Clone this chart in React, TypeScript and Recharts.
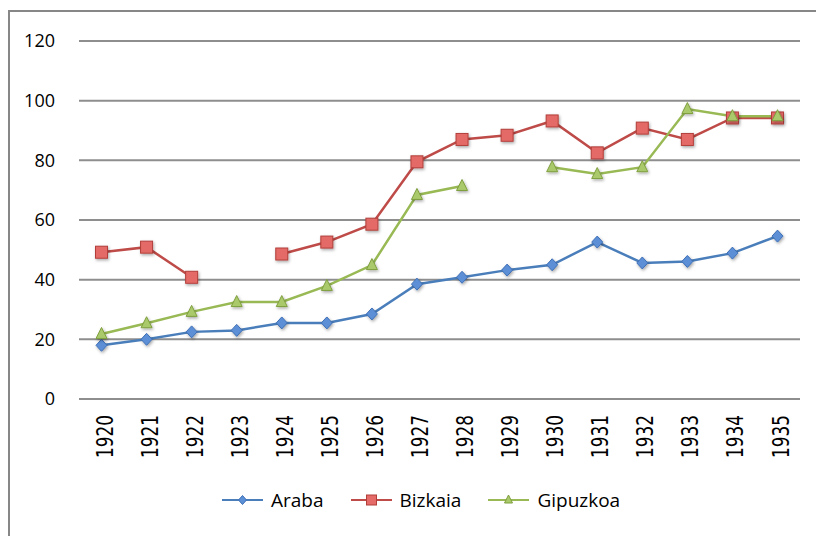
import React from 'react'
import { LineChart, Line, XAxis, YAxis, CartesianGrid, Legend } from 'recharts'

const years = ['1920', '1921', '1922', '1923', '1924', '1925', '1926', '1927', '1928', '1929', '1930', '1931', '1932', '1933', '1934', '1935']
const araba = [18, 20, 22.5, 23, 25.5, 25.5, 28.5, 38.5, 40.8, 43.2, 45, 52.6, 45.6, 46.1, 48.9, 54.6]
const bizkaia = [49.2, 50.9, 40.8, null, 48.6, 52.6, 58.6, 79.5, 87, 88.4, 93.2, 82.5, 90.8, 87, 94.2, 94.2]
const gipuzkoa = [21.8, 25.4, 29.2, 32.5, 32.5, 37.9, 44.9, 68.4, 71.4, null, 77.7, 75.4, 77.7, 97.2, 94.8, 94.8]
const yTicks = [0, 20, 40, 60, 80, 100, 120]

const data = years.map((year, i) => ({
  year,
  Araba: araba[i],
  Bizkaia: bizkaia[i],
  Gipuzkoa: gipuzkoa[i],
}))

const styles: Record<string, { line: string; fill: string; stroke: string; shape: string }> = {
  Araba: { line: '#4a7ebb', fill: '#5b8fd6', stroke: '#3f6fb5', shape: 'diamond' },
  Bizkaia: { line: '#be4b48', fill: '#e46b67', stroke: '#b23e3a', shape: 'square' },
  Gipuzkoa: { line: '#98b954', fill: '#a9c96a', stroke: '#7f9f3f', shape: 'triangle' },
}

function Marker({ shape, cx, cy, fill, stroke, size, shadow }: any) {
  const s = size / 2
  const filter = shadow ? 'url(#mshadow)' : undefined
  if (shape === 'diamond') {
    return <path d={`M${cx},${cy - s - 0.5}L${cx + s},${cy}L${cx},${cy + s + 0.5}L${cx - s},${cy}Z`} fill={fill} stroke={stroke} strokeWidth={1} filter={filter} />
  }
  if (shape === 'square') {
    return <rect x={cx - s} y={cy - s} width={size} height={size} fill={fill} stroke={stroke} strokeWidth={1} filter={filter} />
  }
  return <path d={`M${cx},${cy - s - 1}L${cx + s},${cy + s - 1}L${cx - s},${cy + s - 1}Z`} fill={fill} stroke={stroke} strokeWidth={1} filter={filter} />
}

const makeDot = (name: string, size: number) => (props: any) => {
  const { cx, cy, index, value } = props
  const st = styles[name]
  if (cx == null || cy == null || value == null) return <g key={`${name}-${index}`} />
  return (
    <g key={`${name}-${index}`}>
      <Marker shape={st.shape} cx={cx} cy={cy} fill={st.fill} stroke={st.stroke} size={size} shadow />
    </g>
  )
}

function YearTick({ x, y, payload }: any) {
  return (
    <g transform={`translate(${x},${y})`}>
      <text transform="rotate(-90) scale(0.735,1)" textAnchor="end" dy={11} fontSize={23} fontFamily="DejaVu Sans" fill="#000">
        {payload.value}
      </text>
    </g>
  )
}

function renderLegend(props: any) {
  const items = props.payload || []
  return (
    <div style={{ display: 'flex', alignItems: 'center', gap: 27, fontFamily: 'Open Sans', fontSize: 19, color: '#000', height: 24 }}>
      {items.map((item: any) => {
        const st = styles[item.value]
        return (
          <div key={item.value} style={{ display: 'flex', alignItems: 'center' }}>
            <svg width={41} height={14}>
              <line x1={0} y1={7} x2={41} y2={7} stroke={st.line} strokeWidth={2} />
              <Marker shape={st.shape} cx={20.5} cy={7} fill={st.fill} stroke={st.stroke} size={st.shape === 'square' ? 10 : 8} />
            </svg>
            <span style={{ marginLeft: 8, lineHeight: '24px' }}>{item.value}</span>
          </div>
        )
      })}
    </div>
  )
}

export default function App() {
  return (
    <div style={{ position: 'fixed', left: 0, top: 0, width: 816, height: 536, overflow: 'hidden', background: '#fff' }}>
      <svg width={0} height={0} style={{ position: 'absolute' }}>
        <defs>
          <filter id="mshadow" x="-60%" y="-60%" width="220%" height="220%">
            <feDropShadow dx={1} dy={1.5} stdDeviation={1.5} floodColor="#000" floodOpacity={0.35} />
          </filter>
        </defs>
      </svg>
      <div style={{ position: 'absolute', left: 8, top: 10, width: 820, height: 540, borderLeft: '2px solid #878787', borderTop: '2px solid #878787' }} />
      <div style={{ position: 'absolute', left: 0, top: 0 }}>
        <LineChart width={816} height={536} data={data} margin={{ top: 41, right: 16, bottom: 107, left: 0 }}>
          <CartesianGrid vertical={false} stroke="#8e8e8e" strokeWidth={2} />
          <XAxis
            dataKey="year"
            height={30}
            axisLine={false}
            tickLine={false}
            tickSize={0}
            tickMargin={16}
            interval={0}
            padding={{ left: 22.5, right: 22.5 }}
            tick={<YearTick />}
          />
          <YAxis
            domain={[0, 120]}
            ticks={yTicks}
            width={79}
            axisLine={false}
            tickLine={false}
            tickSize={0}
            tickMargin={24}
            tick={{ fontFamily: 'Open Sans', fontSize: 18, fill: '#000' }}
          />
          <Legend
            layout="horizontal"
            verticalAlign="middle"
            content={renderLegend}
            wrapperStyle={{ left: 222, top: 488, width: 440, height: 24 }}
          />
          {['Araba', 'Bizkaia', 'Gipuzkoa'].map((name) => (
            <Line
              key={name}
              type="linear"
              dataKey={name}
              name={name}
              stroke={styles[name].line}
              strokeWidth={2.5}
              dot={makeDot(name, name === 'Bizkaia' ? 12 : 11)}
              activeDot={false}
              isAnimationActive={false}
            />
          ))}
        </LineChart>
      </div>
    </div>
  )
}
